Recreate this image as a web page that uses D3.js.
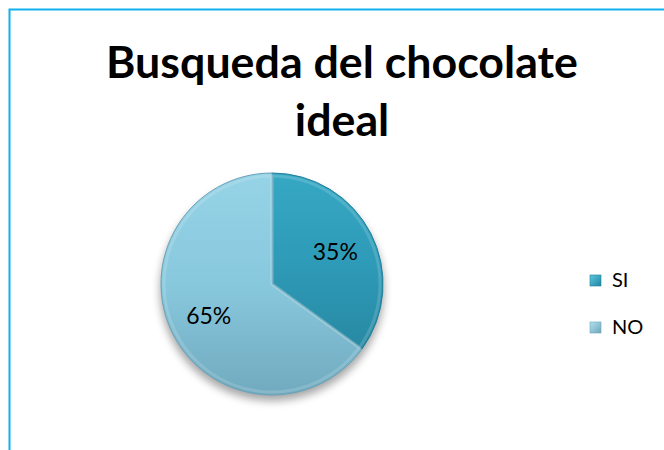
<!DOCTYPE html>
<html>
<head>
<meta charset="utf-8">
<script src="https://cdn.jsdelivr.net/npm/d3@7"></script>
<style>
  body { margin: 0; background: #fff; }
  svg { display: block; font-family: Lato, "Open Sans", sans-serif; }
</style>
</head>
<body>
<div id="chart"></div>
<script>
const title = ["Busqueda del chocolate", "ideal"]
const categories = ["SI", "NO"]
const values = [35, 65]

const width = 664, height = 450
const cx = 272, cy = 284, radius = 111

const svg = d3.select("#chart").append("svg")
  .attr("width", width).attr("height", height)

const defs = svg.append("defs")

// gradients for the two slices (dark teal / light blue)
const grads = [
  { id: "gSI", stops: ["#36a8c4", "#2e9bb8", "#2889a3"] },
  { id: "gNO", stops: ["#96d3e7", "#88c8dd", "#71aabf"] }
]
grads.forEach(g => {
  const lg = defs.append("linearGradient").attr("id", g.id)
    .attr("x1", 0).attr("y1", 0).attr("x2", 0).attr("y2", 1)
  g.stops.forEach((c, i) => lg.append("stop").attr("offset", i / 2).attr("stop-color", c))
})
const lgSq = [
  { id: "sqSI", stops: ["#5cc6e0", "#1f86a3"] },
  { id: "sqNO", stops: ["#b3e2f0", "#6ea6bb"] }
]
lgSq.forEach(g => {
  const lg = defs.append("linearGradient").attr("id", g.id)
    .attr("x1", 0).attr("y1", 0).attr("x2", 1).attr("y2", 1)
  g.stops.forEach((c, i) => lg.append("stop").attr("offset", i).attr("stop-color", c))
})

defs.append("filter").attr("id", "shadow")
  .attr("x", "-20%").attr("y", "-20%").attr("width", "140%").attr("height", "140%")
  .append("feGaussianBlur").attr("stdDeviation", 4)

// frame (top and left edges visible)
svg.append("path")
  .attr("d", `M9.5,${height} V9.5 H${width}`)
  .attr("fill", "none").attr("stroke", "#0fb0ec").attr("stroke-width", 2)

// title
const titleG = svg.append("g").attr("font-weight", "bold").attr("fill", "#000")
  .attr("text-anchor", "middle")
const t1 = titleG.append("text").attr("x", 342).attr("y", 78).attr("font-size", 40).text(title[0])
const w = t1.node().getComputedTextLength()
const fs = 40 * 472 / w
t1.attr("font-size", fs)
titleG.append("text").attr("x", 342).attr("y", 136).attr("font-size", fs).text(title[1])

// pie
const pie = d3.pie().sort(null).value(d => d)
const arcs = pie(values)
const arc = d3.arc().innerRadius(0).outerRadius(radius)
const bevel = d3.arc().innerRadius(0).outerRadius(radius - 3)
const labelArc = d3.arc().innerRadius(71).outerRadius(71)

const g = svg.append("g").attr("transform", `translate(${cx},${cy})`)

g.append("ellipse").attr("cx", 0).attr("cy", 6).attr("rx", radius + 1).attr("ry", radius)
  .attr("fill", "#000").attr("opacity", 0.35).attr("filter", "url(#shadow)")

g.selectAll("path.slice").data(arcs).enter().append("path")
  .attr("class", "slice")
  .attr("d", arc)
  .attr("fill", (d, i) => `url(#${grads[i].id})`)
  .attr("stroke", (d, i) => i === 0 ? "#1f7f98" : "#6aa3b8")
  .attr("stroke-width", 1)

// soft inner bevel highlight
g.selectAll("path.bevel").data(arcs).enter().append("path")
  .attr("class", "bevel")
  .attr("d", bevel)
  .attr("fill", "none")
  .attr("stroke", "#fff").attr("stroke-opacity", 0.15).attr("stroke-width", 3)

g.selectAll("text.lbl").data(arcs).enter().append("text")
  .attr("class", "lbl")
  .attr("transform", d => `translate(${labelArc.centroid(d)})`)
  .attr("text-anchor", "middle").attr("dy", "0.35em")
  .attr("font-size", 23).attr("fill", "#000")
  .text(d => Math.round(d.data) + "%")

// legend
const legend = svg.append("g").attr("transform", "translate(590,275)")
const item = legend.selectAll("g").data(categories).enter().append("g")
  .attr("transform", (d, i) => `translate(0,${i * 47})`)
item.append("rect").attr("width", 11).attr("height", 11)
  .attr("fill", (d, i) => `url(#${lgSq[i].id})`)
  .attr("stroke", (d, i) => i === 0 ? "#1f7f98" : "#6aa3b8").attr("stroke-width", 0.6)
item.append("text").attr("x", 22).attr("y", 12).attr("font-size", 20).attr("fill", "#000")
  .text(d => d)
</script>
</body>
</html>
